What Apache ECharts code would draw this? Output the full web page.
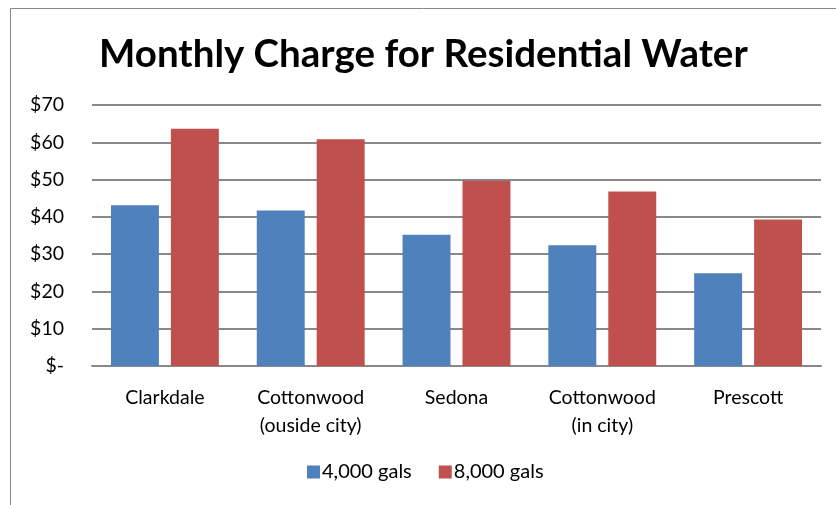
<!DOCTYPE html>
<html><head><meta charset="utf-8">
<script src="https://cdn.jsdelivr.net/npm/echarts@6/dist/echarts.min.js"></script>
<style>html,body{margin:0;padding:0;background:#fff}#c{width:836px;height:505px}</style>
</head><body><div id="c"></div>
<script>
const categories = ['Clarkdale', 'Cottonwood\n(ouside city)', 'Sedona', 'Cottonwood\n(in city)', 'Prescott'];
const gals4000 = [43.1, 41.7, 35.2, 32.4, 24.9];
const gals8000 = [63.6, 60.8, 49.7, 46.8, 39.3];
const seriesNames = ['4,000 gals', '8,000 gals'];
const yTicks = [0, 10, 20, 30, 40, 50, 60, 70];

const chart = echarts.init(document.getElementById('c'));
const font = 'Lato, Open Sans, sans-serif';
chart.setOption({
  animation: false,
  title: {
    text: 'Monthly Charge for Residential Water',
    left: 94, top: 30,
    textStyle: {fontFamily: font, fontWeight: 'bold', fontSize: 38.5, color: '#000'}
  },
  graphic: [{type: 'rect', shape: {x: 10.5, y: 8.5, width: 840, height: 520},
    style: {fill: 'none', stroke: '#888', lineWidth: 1}, silent: true}],
  legend: {
    data: seriesNames, bottom: 18, left: 302, itemWidth: 13, itemHeight: 13,
    itemGap: 27, icon: 'rect',
    textStyle: {fontFamily: font, fontSize: 20, color: '#000', padding: [0, 0, 0, -3]}
  },
  grid: {left: 92, right: 15, top: 105, bottom: 139},
  xAxis: {
    type: 'category', data: categories,
    axisLine: {lineStyle: {color: '#888', width: 2}},
    axisTick: {show: false},
    axisLabel: {fontFamily: font, fontSize: 19.5, color: '#000', margin: 18, lineHeight: 28}
  },
  yAxis: {
    type: 'value', min: 0, max: 70, interval: 10,
    axisLine: {show: false}, axisTick: {show: false},
    splitLine: {lineStyle: {color: '#888', width: 2}},
    axisLabel: {fontFamily: font, fontSize: 19.5, color: '#000', margin: 28,
      formatter: v => yTicks.includes(v) ? (v === 0 ? '$-' : '$' + v) : ''}
  },
  series: [
    {name: seriesNames[0], type: 'bar', data: gals4000, barGap: '25%', barCategoryGap: '26%',
     itemStyle: {color: '#4f81bd'}},
    {name: seriesNames[1], type: 'bar', data: gals8000,
     itemStyle: {color: '#c0504d'}}
  ]
});
</script></body></html>
